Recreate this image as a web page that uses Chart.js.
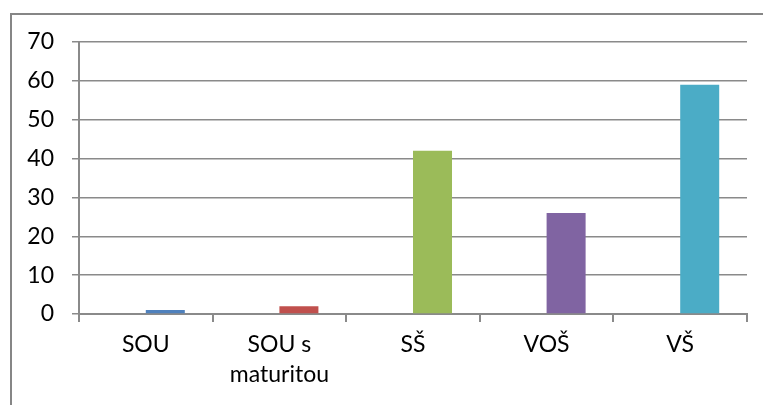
<!DOCTYPE html>
<html>
<head>
<meta charset="utf-8">
<script src="https://cdn.jsdelivr.net/npm/chart.js@4/dist/chart.umd.min.js"></script>
<style>
  html, body { margin: 0; padding: 0; background: #fff; overflow: hidden; }
  #frame { position: absolute; left: 10px; top: 13px; width: 900px; height: 500px;
           border-left: 2px solid #868686; border-top: 2px solid #868686; }
  #wrap { position: absolute; left: 0; top: 0; width: 763px; height: 405px; }
</style>
</head>
<body>
<div id="frame"></div>
<div id="wrap"><canvas id="bar-chart" width="763" height="405"></canvas></div>
<script>
const categories = [['SOU'], ['SOU s', 'maturitou'], ['SŠ'], ['VOŠ'], ['VŠ']];
const emptySeries = [null, null, null, null, null];
const values = [1, 2, 42, 26, 59];
const barColors = ['#4F81BD', '#C0504D', '#9BBB59', '#8064A2', '#4BACC6'];
const yMin = 0, yMax = 70, yStep = 10;

const gray = '#8a8a8a';
const font = {family: 'Lato', size: 23, lineHeight: 1.3};

new Chart('bar-chart', {
    type: 'bar',
    data: {
        labels: categories,
        datasets: [{
            data: emptySeries,
            backgroundColor: 'transparent'
        }, {
            data: values,
            backgroundColor: barColors
        }]
    },
    options: {
        responsive: false,
        animation: false,
        events: [],
        layout: {padding: {top: 42, right: 16, left: 0, bottom: 0}},
        plugins: {legend: {display: false}, tooltip: {enabled: false}},
        datasets: {bar: {categoryPercentage: 0.584, barPercentage: 1.0}},
        scales: {
            x: {
                grid: {display: true, drawOnChartArea: false, drawTicks: true, tickLength: 8,
                       offset: true, color: gray, lineWidth: 2},
                border: {display: true, color: gray, width: 2},
                ticks: {color: '#000', font: font, padding: 8, maxRotation: 0, autoSkip: false},
                afterFit: s => { s.height = 91; }
            },
            y: {
                min: yMin, max: yMax,
                grid: {color: gray, lineWidth: 1.5, tickLength: 7},
                border: {display: true, color: gray, width: 2},
                ticks: {stepSize: yStep, color: '#000', font: font, padding: 18},
                afterFit: s => { s.width = 79; }
            }
        }
    }
});
</script>
</body>
</html>
